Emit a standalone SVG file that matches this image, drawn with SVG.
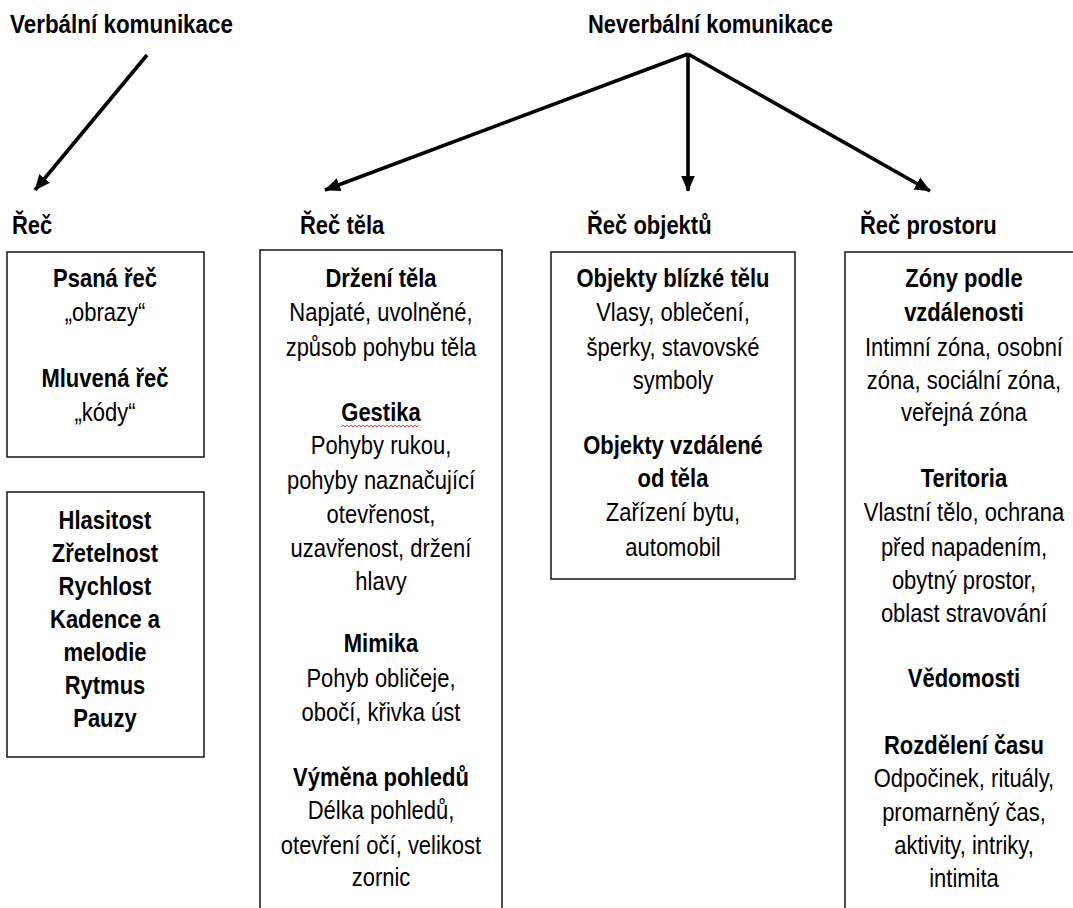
<svg xmlns="http://www.w3.org/2000/svg" width="1073" height="908" viewBox="0 0 1073 908">
  <style>
    text { font-family: "Liberation Sans", Arial, sans-serif; font-size: 22px; fill: #000; }
    .b { font-weight: bold; }
    .c { text-anchor: middle; }
    .box { fill: #fff; stroke: #222; stroke-width: 1.6; }
    .arrow { stroke: #000; stroke-width: 3.6; fill: none; }
  </style>
  <defs>
    <marker id="head" markerWidth="5" markerHeight="5" refX="4.2" refY="2.5" orient="auto" markerUnits="strokeWidth">
      <path d="M0,0.6 L4.4,2.5 L0,4.4 Z" fill="#000"/>
    </marker>
  </defs>

  <rect width="1073" height="908" fill="#fff"/>

  <!-- every label is drawn 1.2x taller than wide: matrix(1 0 0 1.2 0 baseline) -->

  <!-- top level headings -->
  <g id="verbalni">
    <text class="b" x="10" transform="matrix(1 0 0 1.2 0 33)" textLength="223" lengthAdjust="spacingAndGlyphs">Verbální komunikace</text>
  </g>
  <g id="neverbalni">
    <text class="b" x="588" transform="matrix(1 0 0 1.2 0 33)" textLength="245" lengthAdjust="spacingAndGlyphs">Neverbální komunikace</text>
  </g>

  <!-- connectors -->
  <g id="connectors">
    <line class="arrow" x1="147" y1="55" x2="35" y2="190" marker-end="url(#head)"/>
    <line class="arrow" x1="688" y1="54" x2="325" y2="190" marker-end="url(#head)"/>
    <line class="arrow" x1="688" y1="54" x2="688" y2="191" marker-end="url(#head)"/>
    <path class="arrow" d="M688,54 L930,191" marker-end="url(#head)"/>
  </g>

  <!-- Řeč -->
  <g id="rec">
    <text class="b" x="12" transform="matrix(1 0 0 1.2 0 234)">Řeč</text>
    <rect class="box" x="7" y="252" width="197" height="205"/>
    <text class="b c" x="105" transform="matrix(1 0 0 1.2 0 287)">Psaná řeč</text>
    <text class="c" x="105" transform="matrix(1 0 0 1.2 0 321)">„obrazy“</text>
    <text class="b c" x="105" transform="matrix(1 0 0 1.2 0 387)">Mluvená řeč</text>
    <text class="c" x="105" transform="matrix(1 0 0 1.2 0 421)">„kódy“</text>
  </g>
  <g id="rec-vlastnosti">
    <rect class="box" x="7" y="492" width="197" height="265"/>
    <text class="b c" x="105" transform="matrix(1 0 0 1.2 0 529)">Hlasitost</text>
    <text class="b c" x="105" transform="matrix(1 0 0 1.2 0 562)">Zřetelnost</text>
    <text class="b c" x="105" transform="matrix(1 0 0 1.2 0 595)">Rychlost</text>
    <text class="b c" x="105" transform="matrix(1 0 0 1.2 0 628)">Kadence a</text>
    <text class="b c" x="105" transform="matrix(1 0 0 1.2 0 661)">melodie</text>
    <text class="b c" x="105" transform="matrix(1 0 0 1.2 0 694)">Rytmus</text>
    <text class="b c" x="105" transform="matrix(1 0 0 1.2 0 727)">Pauzy</text>
  </g>

  <!-- Řeč těla -->
  <g id="rec-tela">
    <text class="b" x="300" transform="matrix(1 0 0 1.2 0 234)">Řeč těla</text>
    <rect class="box" x="260" y="250" width="242" height="700"/>
    <text class="b c" x="381" transform="matrix(1 0 0 1.2 0 287)">Držení těla</text>
    <text class="c" x="381" transform="matrix(1 0 0 1.2 0 321)">Napjaté, uvolněné,</text>
    <text class="c" x="381" transform="matrix(1 0 0 1.2 0 356)">způsob pohybu těla</text>
    <text class="b c" x="381" transform="matrix(1 0 0 1.2 0 421)">Gestika</text>
    <!-- spell-check squiggle under "Gestika" -->
    <path d="M341,427 l2,-2 l2,2 l2,-2 l2,2 l2,-2 l2,2 l2,-2 l2,2 l2,-2 l2,2 l2,-2 l2,2 l2,-2 l2,2 l2,-2 l2,2 l2,-2 l2,2 l2,-2 l2,2 l2,-2 l2,2 l2,-2 l2,2 l2,-2 l2,2 l2,-2 l2,2 l2,-2 l2,2 l2,-2 l2,2 l2,-2 l2,2 l2,-2 l2,2 l2,-2 l2,2 l2,-2" fill="none" stroke="#e33" stroke-width="0.9"/>
    <text class="c" x="381" transform="matrix(1 0 0 1.2 0 454)">Pohyby rukou,</text>
    <text class="c" x="381" transform="matrix(1 0 0 1.2 0 489)">pohyby naznačující</text>
    <text class="c" x="381" transform="matrix(1 0 0 1.2 0 523)">otevřenost,</text>
    <text class="c" x="381" transform="matrix(1 0 0 1.2 0 557)">uzavřenost, držení</text>
    <text class="c" x="381" transform="matrix(1 0 0 1.2 0 590)">hlavy</text>
    <text class="b c" x="381" transform="matrix(1 0 0 1.2 0 652)">Mimika</text>
    <text class="c" x="381" transform="matrix(1 0 0 1.2 0 687)">Pohyb obličeje,</text>
    <text class="c" x="381" transform="matrix(1 0 0 1.2 0 721)">obočí, křivka úst</text>
    <text class="b c" x="381" transform="matrix(1 0 0 1.2 0 786)">Výměna pohledů</text>
    <text class="c" x="381" transform="matrix(1 0 0 1.2 0 819)">Délka pohledů,</text>
    <text class="c" x="381" transform="matrix(1 0 0 1.2 0 854)">otevření očí, velikost</text>
    <text class="c" x="381" transform="matrix(1 0 0 1.2 0 886)">zornic</text>
  </g>

  <!-- Řeč objektů -->
  <g id="rec-objektu">
    <text class="b" x="587" transform="matrix(1 0 0 1.2 0 234)">Řeč objektů</text>
    <rect class="box" x="551" y="252" width="244" height="327"/>
    <text class="b c" x="673" transform="matrix(1 0 0 1.2 0 287)">Objekty blízké tělu</text>
    <text class="c" x="673" transform="matrix(1 0 0 1.2 0 321)">Vlasy, oblečení,</text>
    <text class="c" x="673" transform="matrix(1 0 0 1.2 0 356)">šperky, stavovské</text>
    <text class="c" x="673" transform="matrix(1 0 0 1.2 0 389)">symboly</text>
    <text class="b c" x="673" transform="matrix(1 0 0 1.2 0 454)">Objekty vzdálené</text>
    <text class="b c" x="673" transform="matrix(1 0 0 1.2 0 487)">od těla</text>
    <text class="c" x="673" transform="matrix(1 0 0 1.2 0 521)">Zařízení bytu,</text>
    <text class="c" x="673" transform="matrix(1 0 0 1.2 0 556)">automobil</text>
  </g>

  <!-- Řeč prostoru -->
  <g id="rec-prostoru">
    <text class="b" x="860" transform="matrix(1 0 0 1.2 0 234)">Řeč prostoru</text>
    <rect class="box" x="845" y="252" width="260" height="700"/>
    <text class="b c" x="964" transform="matrix(1 0 0 1.2 0 287)">Zóny podle</text>
    <text class="b c" x="964" transform="matrix(1 0 0 1.2 0 321)">vzdálenosti</text>
    <text class="c" x="964" transform="matrix(1 0 0 1.2 0 356)">Intimní zóna, osobní</text>
    <text class="c" x="964" transform="matrix(1 0 0 1.2 0 389)">zóna, sociální zóna,</text>
    <text class="c" x="964" transform="matrix(1 0 0 1.2 0 421)">veřejná zóna</text>
    <text class="b c" x="964" transform="matrix(1 0 0 1.2 0 487)">Teritoria</text>
    <text class="c" x="964" transform="matrix(1 0 0 1.2 0 521)">Vlastní tělo, ochrana</text>
    <text class="c" x="964" transform="matrix(1 0 0 1.2 0 556)">před napadením,</text>
    <text class="c" x="964" transform="matrix(1 0 0 1.2 0 589)">obytný prostor,</text>
    <text class="c" x="964" transform="matrix(1 0 0 1.2 0 622)">oblast stravování</text>
    <text class="b c" x="964" transform="matrix(1 0 0 1.2 0 687)">Vědomosti</text>
    <text class="b c" x="964" transform="matrix(1 0 0 1.2 0 754)">Rozdělení času</text>
    <text class="c" x="964" transform="matrix(1 0 0 1.2 0 787)">Odpočinek, rituály,</text>
    <text class="c" x="964" transform="matrix(1 0 0 1.2 0 821)">promarněný čas,</text>
    <text class="c" x="964" transform="matrix(1 0 0 1.2 0 854)">aktivity, intriky,</text>
    <text class="c" x="964" transform="matrix(1 0 0 1.2 0 887)">intimita</text>
  </g>
</svg>
